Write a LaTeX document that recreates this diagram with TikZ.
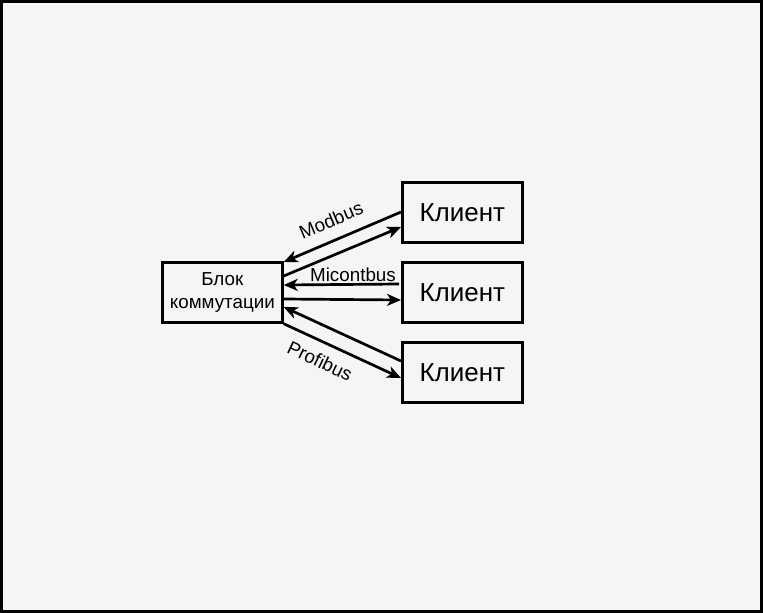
\documentclass[tikz,border=0pt]{standalone}
\usepackage{fontspec}
\setmainfont{Liberation Sans}
\usetikzlibrary{arrows.meta}
\begin{document}
\begin{tikzpicture}[x=1pt,y=-1pt,
  boxst/.style={draw=black,line width=2.7pt,fill=none,minimum width=120pt,minimum height=60pt,inner sep=0pt,anchor=north west,align=center},
  conn/.style={line width=2.7pt,-{Stealth[length=14pt,width=12pt,inset=4pt]}},
  lbl/.style={font=\fontsize{18.8}{22}\selectfont,inner sep=1pt}]
\useasboundingbox (0,0) rectangle (763,613);
\fill[fill={rgb,255:red,245;green,245;blue,245}] (0,0) rectangle (763,613);
\draw[line width=3pt] (1.5,1.5) rectangle (761.5,611.5);
\node[boxst,font=\fontsize{18.8}{23}\selectfont] (blk) at (161,261) {Блок\\коммутации};
\node[boxst,font=\fontsize{26}{30}\selectfont] (c1) at (401,181) {Клиент};
\node[boxst,font=\fontsize{26}{30}\selectfont] (c2) at (401,261) {Клиент};
\node[boxst,font=\fontsize{26}{30}\selectfont] (c3) at (401,341) {Клиент};
\coordinate (b1) at ([yshift=-1pt]blk.north east);
\coordinate (b2) at ([yshift=-15pt]blk.north east);
\coordinate (b3) at ([yshift=-24pt]blk.north east);
\coordinate (b4) at ([yshift=-38pt]blk.north east);
\coordinate (b5) at ([yshift=-46pt]blk.north east);
\coordinate (b6) at (blk.south east);
\draw[conn] ([yshift=-31pt]c1.north west) -- (b1);
\draw[conn] (b2) -- ([yshift=-46pt]c1.north west);
\draw[conn] ([xshift=-2pt,yshift=-23pt]c2.north west) -- (b3);
\draw[conn] (b4) -- ([yshift=-39pt]c2.north west);
\draw[conn] ([yshift=-20pt]c3.north west) -- (b5);
\draw[conn] (b6) -- ([yshift=-37pt]c3.north west);
\node[lbl,rotate=22.6] (l1) at (331,220) {Modbus};
\node[lbl] (l2) at (353,275) {Micontbus};
\node[lbl,rotate=-25.4] (l3) at (320,361) {Profibus};
\end{tikzpicture}
\end{document}
